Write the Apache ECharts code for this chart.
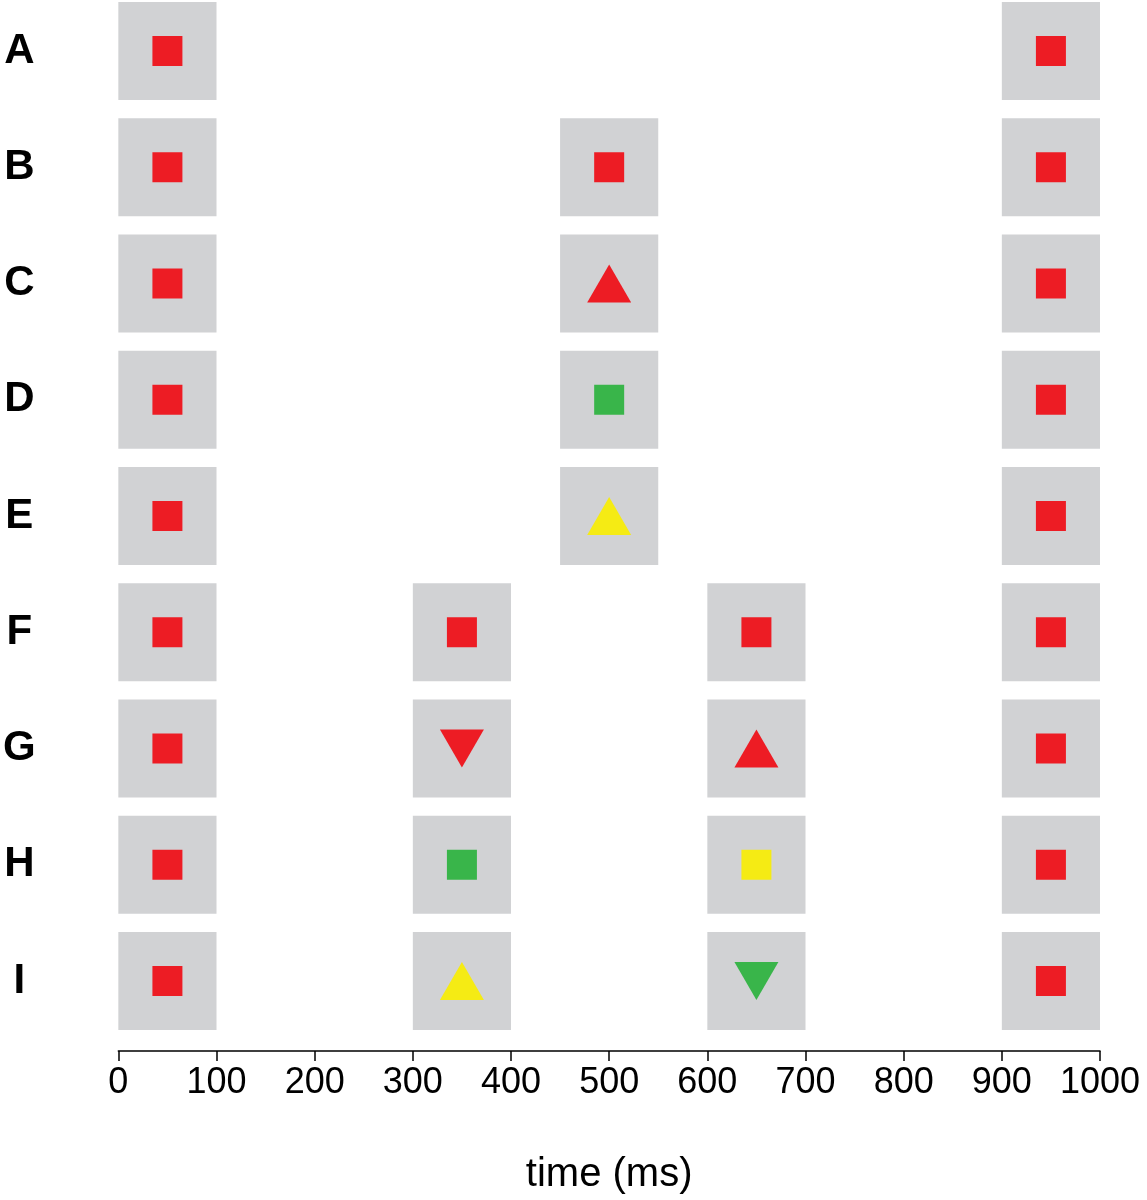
<!DOCTYPE html>
<html><head><meta charset="utf-8">
<script src="https://cdn.jsdelivr.net/npm/echarts@6/dist/echarts.min.js"></script>
<style>html,body{margin:0;background:#fff}#c{width:1147px;height:1200px}</style>
</head><body><div id="c"></div>
<script>
var rows = ['A','B','C','D','E','F','G','H','I'];
var xTicks = [0,100,200,300,400,500,600,700,800,900,1000];
// [rowIndex, startMs, endMs]
var boxes = [
 [0,0,100],[0,900,1000],
 [1,0,100],[1,450,550],[1,900,1000],
 [2,0,100],[2,450,550],[2,900,1000],
 [3,0,100],[3,450,550],[3,900,1000],
 [4,0,100],[4,450,550],[4,900,1000],
 [5,0,100],[5,300,400],[5,600,700],[5,900,1000],
 [6,0,100],[6,300,400],[6,600,700],[6,900,1000],
 [7,0,100],[7,300,400],[7,600,700],[7,900,1000],
 [8,0,100],[8,300,400],[8,600,700],[8,900,1000]
];
// [timeMs, rowIndex, shape, colour]
var stimuli = [];
rows.forEach(function(r,i){ stimuli.push([50,i,'square','red']); stimuli.push([950,i,'square','red']); });
var middle = [
 [500,1,'square','red'],
 [500,2,'up','red'],
 [500,3,'square','green'],
 [500,4,'up','yellow'],
 [350,5,'square','red'],[650,5,'square','red'],
 [350,6,'down','red'],[650,6,'up','red'],
 [350,7,'square','green'],[650,7,'square','yellow'],
 [350,8,'up','yellow'],[650,8,'down','green']
];
stimuli = stimuli.concat(middle);
var COL = {red:'#ed1c24', green:'#39b54a', yellow:'#f5eb14'};
var chart = echarts.init(document.getElementById('c'));
chart.setOption({
 animation:false,
 grid:{left:117,right:47,top:51,bottom:207,containLabel:false},
 xAxis:{type:'value',min:0,max:1000,interval:100,offset:70,position:'bottom',
  axisLine:{onZero:false,lineStyle:{color:'#000',width:1.5}},
  axisTick:{show:true,length:10,lineStyle:{color:'#000',width:1.5}},
  splitLine:{show:false},
  axisLabel:{color:'#000',fontSize:36,fontFamily:'Liberation Sans, Arial',margin:14,
   formatter:function(v){return String(v);}},
  name:'time (ms)',nameLocation:'middle',nameGap:104,
  nameTextStyle:{color:'#000',fontSize:40,fontFamily:'Liberation Sans, Arial'}},
 yAxis:{type:'value',min:0,max:8,interval:1,inverse:true,
  axisLine:{show:false},axisTick:{show:false},splitLine:{show:false},
  axisLabel:{color:'#000',fontSize:42,fontWeight:'bold',fontFamily:'Liberation Sans, Arial',
   margin:99,align:'center',formatter:function(v){return rows[v]||'';}}},
 series:[
  {type:'custom',data:boxes.map(function(b){return [b[1],b[2],b[0]];}),
   encode:{x:[0,1],y:2},
   renderItem:function(params,api){
    var p0=api.coord([api.value(0),api.value(2)]);
    var p1=api.coord([api.value(1),api.value(2)]);
    var h=98;
    return {type:'rect',shape:{x:p0[0],y:p0[1]-h/2,width:p1[0]-p0[0],height:h},
      style:{fill:'#d1d2d4'}};
   }},
  {type:'scatter',z:5,
   data:stimuli.map(function(s){
    var sym = s[2]==='square'?'rect':'triangle';
    return {value:[s[0],s[1]],symbol:sym,
      symbolSize: s[2]==='square'?[30,30]:[44,38],
      symbolRotate: s[2]==='down'?180:0,
      itemStyle:{color:COL[s[3]],opacity:1}};
   })}
 ]
});
</script></body></html>
